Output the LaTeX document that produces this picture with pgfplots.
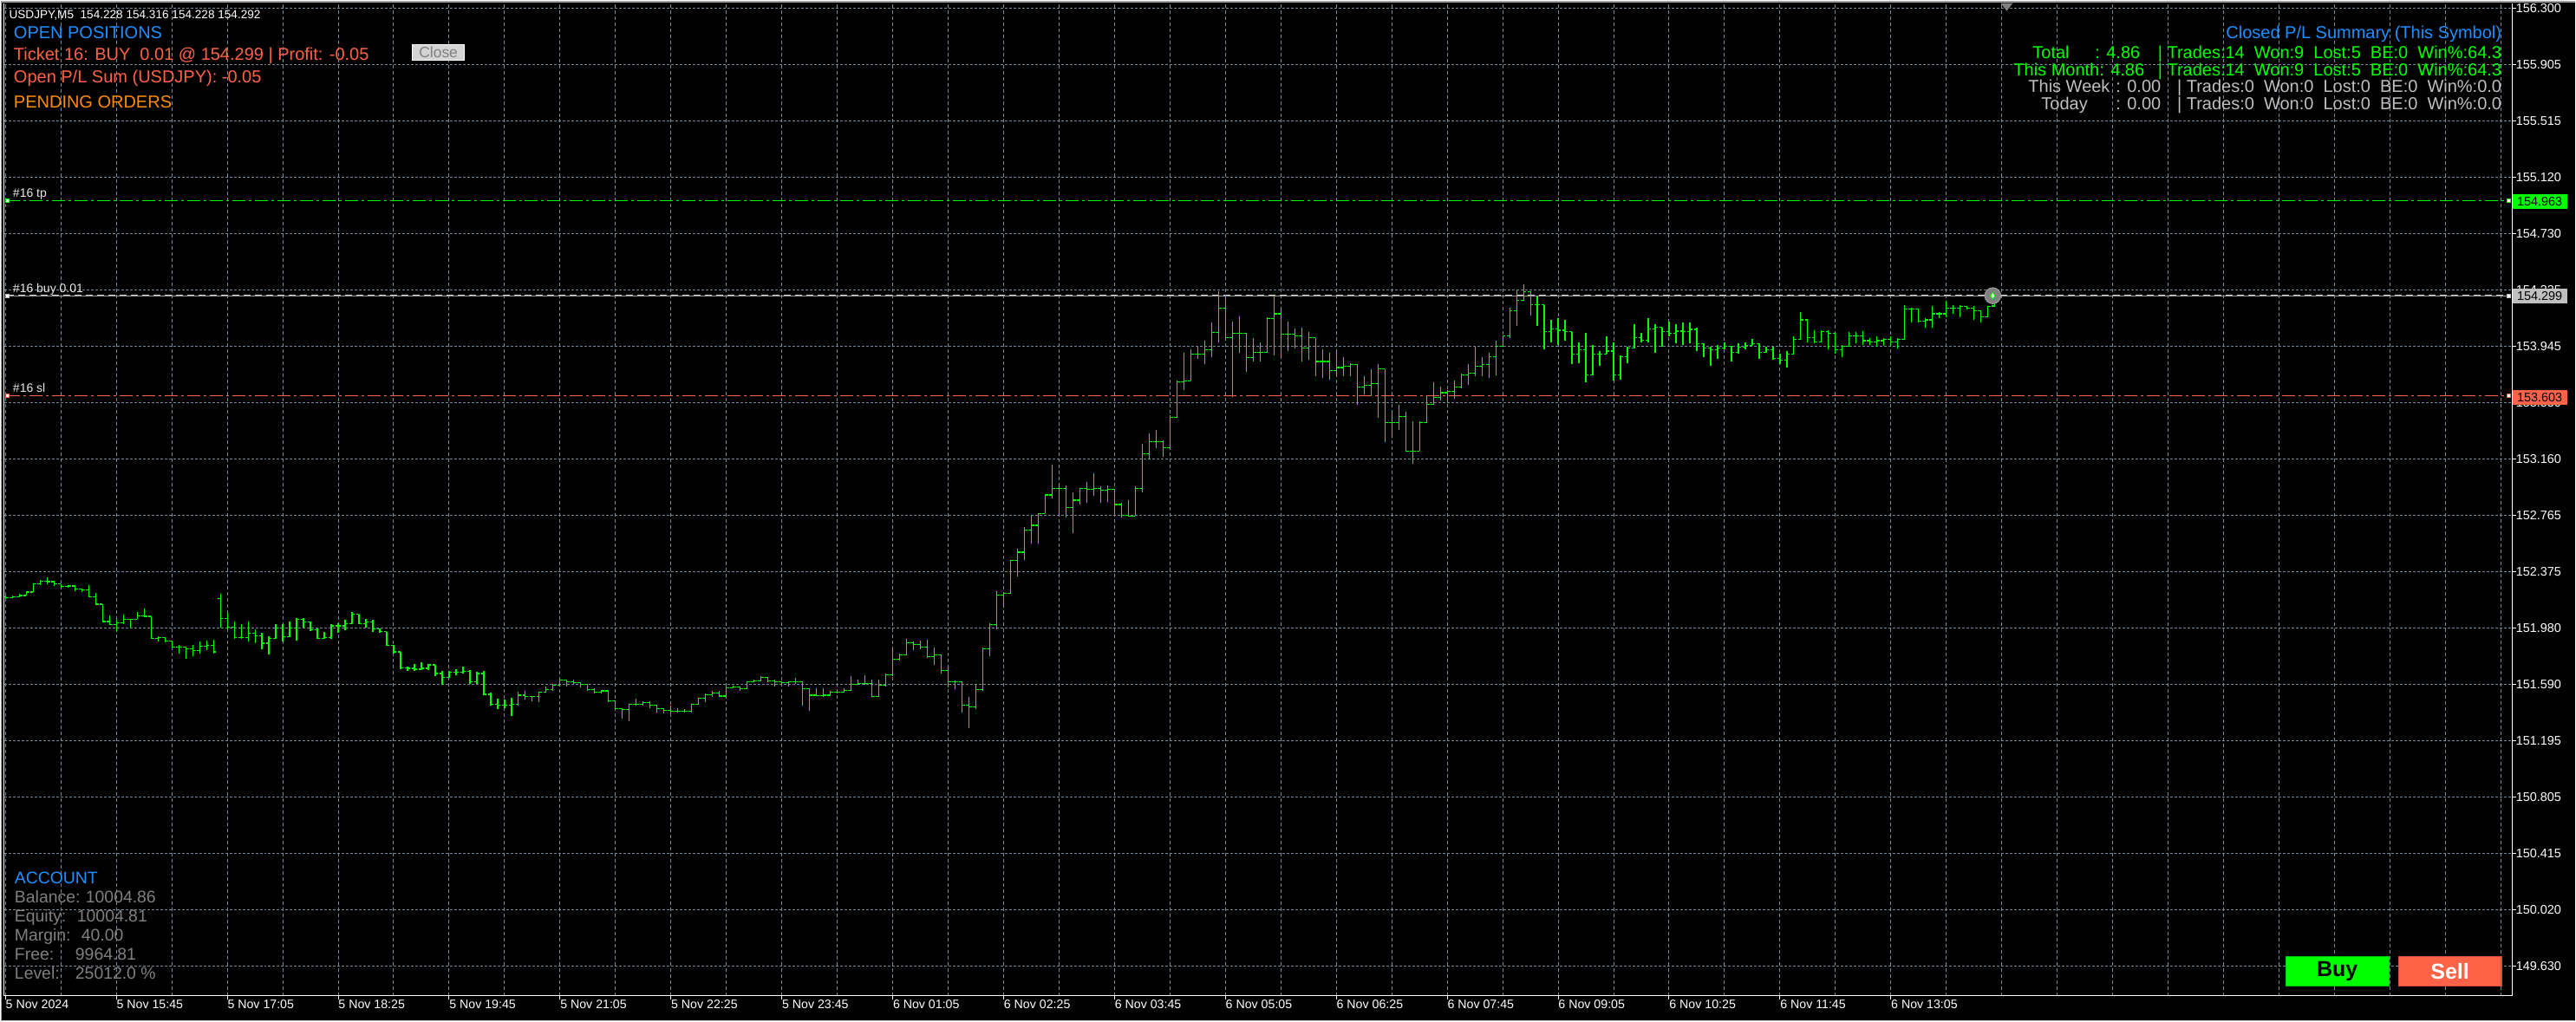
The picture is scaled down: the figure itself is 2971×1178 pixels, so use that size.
\documentclass[border=0pt]{standalone}
\usepackage{fontspec}
\setmainfont{Liberation Sans}
\usepackage{pgfplots}
\usepackage{pgfplotstable}
\pgfplotsset{compat=1.18}
\definecolor{mtgreen}{RGB}{0,255,0}
\definecolor{mtgrid}{RGB}{119,136,153}
\definecolor{dodger}{RGB}{30,144,255}
\definecolor{tomato}{RGB}{255,99,71}
\definecolor{dorange}{RGB}{255,140,0}
\definecolor{silverc}{RGB}{192,192,192}
\definecolor{dimg}{RGB}{128,128,128}

\pgfplotstableread{
x O H L C
0 152.200 152.210 152.184 152.194
1 152.194 152.210 152.190 152.200
2 152.200 152.220 152.196 152.210
3 152.210 152.240 152.220 152.234
4 152.234 152.297 152.234 152.293
5 152.293 152.321 152.281 152.311
6 152.311 152.335 152.287 152.307
7 152.307 152.311 152.275 152.291
8 152.291 152.291 152.267 152.275
9 152.275 152.285 152.265 152.277
10 152.277 152.280 152.240 152.255
11 152.255 152.261 152.236 152.247
12 152.247 152.281 152.196 152.200
13 152.200 152.230 152.146 152.150
14 152.150 152.150 152.025 152.029
15 152.029 152.074 152.005 152.009
16 152.009 152.039 151.959 152.019
17 152.019 152.078 152.013 152.045
18 152.045 152.049 151.985 152.045
19 152.045 152.096 152.045 152.069
20 152.069 152.120 152.059 152.065
21 152.065 152.065 151.909 151.913
22 151.913 151.929 151.888 151.919
23 151.919 151.923 151.884 151.892
24 151.892 151.892 151.848 151.852
25 151.852 151.868 151.808 151.852
26 151.852 151.852 151.772 151.838
27 151.838 151.868 151.788 151.828
28 151.828 151.892 151.804 151.858
29 151.858 151.899 151.832 151.864
30 151.864 151.903 151.808 151.818
31 152.190 152.220 151.989 152.049
32 152.049 152.090 151.973 151.989
33 151.989 152.029 151.909 151.919
34 151.919 152.009 151.909 151.919
35 151.919 152.029 151.888 151.949
36 151.949 151.973 151.878 151.929
37 151.929 151.953 151.838 151.878
38 151.878 151.929 151.798 151.909
39 151.909 152.013 151.909 151.985
40 151.985 152.009 151.888 151.925
41 151.925 152.029 151.919 151.985
42 151.985 152.053 151.899 152.045
43 152.045 152.053 151.989 152.025
44 152.025 152.029 151.965 151.973
45 151.973 151.979 151.909 151.913
46 151.913 151.959 151.909 151.919
47 151.919 152.009 151.909 151.999
48 151.999 152.019 151.949 151.999
49 151.999 152.039 151.969 152.013
50 152.013 152.096 152.009 152.080
51 152.080 152.080 152.009 152.013
52 152.013 152.049 151.989 152.025
53 152.025 152.039 151.959 151.979
54 151.979 151.979 151.949 151.959
55 151.959 151.959 151.858 151.864
56 151.864 151.868 151.808 151.818
57 151.818 151.818 151.697 151.707
58 151.707 151.717 151.687 151.703
59 151.703 151.731 151.687 151.697
60 151.697 151.748 151.691 151.703
61 151.703 151.731 151.691 151.727
62 151.727 151.727 151.647 151.667
63 151.667 151.687 151.591 151.637
64 151.637 151.683 151.637 151.677
65 151.677 151.697 151.657 151.677
66 151.677 151.717 151.667 151.683
67 151.683 151.691 151.597 151.607
68 151.607 151.677 151.597 151.667
69 151.667 151.687 151.516 151.522
70 151.522 151.536 151.446 151.452
71 151.452 151.490 151.416 151.446
72 151.446 151.486 151.426 151.446
73 151.446 151.496 151.369 151.452
74 151.452 151.542 151.446 151.516
75 151.516 151.546 151.486 151.506
76 151.506 151.510 151.476 151.506
77 151.506 151.540 151.466 151.536
78 151.536 151.577 151.536 151.556
79 151.556 151.597 151.546 151.583
80 151.583 151.631 151.577 151.623
81 151.623 151.627 151.577 151.611
82 151.611 151.627 151.597 151.603
83 151.603 151.607 151.567 151.591
84 151.591 151.591 151.546 151.556
85 151.556 151.562 151.526 151.536
86 151.536 151.550 151.526 151.546
87 151.546 151.546 151.470 151.476
88 151.476 151.476 151.416 151.420
89 151.420 151.426 151.355 151.416
90 151.416 151.456 151.335 151.452
91 151.452 151.492 151.442 151.452
92 151.452 151.476 151.442 151.466
93 151.466 151.476 151.426 151.446
94 151.446 151.446 151.395 151.420
95 151.420 151.426 151.389 151.412
96 151.412 151.446 151.391 151.405
97 151.405 151.426 151.395 151.405
98 151.405 151.416 151.395 151.405
99 151.405 151.456 151.395 151.452
100 151.452 151.500 151.452 151.496
101 151.496 151.526 151.466 151.520
102 151.520 151.546 151.506 151.530
103 151.530 151.546 151.506 151.510
104 151.510 151.583 151.496 151.567
105 151.567 151.583 151.562 151.571
106 151.571 151.577 151.546 151.562
107 151.562 151.613 151.562 151.607
108 151.607 151.627 151.607 151.617
109 151.617 151.647 151.617 151.637
110 151.637 151.637 151.607 151.617
111 151.617 151.623 151.577 151.607
112 151.607 151.607 151.587 151.603
113 151.603 151.613 151.577 151.607
114 151.607 151.637 151.597 151.607
115 151.607 151.607 151.446 151.562
116 151.562 151.562 151.405 151.516
117 151.516 151.562 151.510 151.512
118 151.512 151.562 151.506 151.516
119 151.516 151.546 151.516 151.536
120 151.536 151.552 151.526 151.536
121 151.536 151.562 151.536 151.550
122 151.550 151.647 151.546 151.591
123 151.591 151.627 151.587 151.597
124 151.597 151.657 151.587 151.597
125 151.597 151.627 151.502 151.506
126 151.506 151.627 151.502 151.587
127 151.587 151.667 151.577 151.657
128 151.657 151.838 151.647 151.768
129 151.768 151.808 151.758 151.798
130 151.798 151.909 151.798 151.882
131 151.882 151.888 151.828 151.868
132 151.868 151.899 151.838 151.852
133 151.852 151.903 151.778 151.784
134 151.784 151.848 151.727 151.798
135 151.798 151.798 151.667 151.687
136 151.687 151.707 151.567 151.607
137 151.607 151.617 151.556 151.607
138 151.607 151.607 151.395 151.446
139 151.446 151.506 151.285 151.436
140 151.436 151.587 151.416 151.556
141 151.556 151.848 151.546 151.838
142 151.838 152.019 151.788 152.009
143 152.009 152.242 151.972 152.211
144 152.211 152.232 152.128 152.226
145 152.226 152.460 152.221 152.454
146 152.454 152.537 152.346 152.512
147 152.512 152.689 152.460 152.668
148 152.668 152.772 152.574 152.699
149 152.699 152.782 152.574 152.782
150 152.782 152.917 152.782 152.911
151 152.911 153.125 152.886 152.958
152 152.958 152.990 152.761 152.958
153 152.958 152.979 152.751 152.824
154 152.824 152.927 152.647 152.875
155 152.875 152.958 152.844 152.958
156 152.958 153.000 152.855 152.948
157 152.948 153.062 152.907 152.958
158 152.958 152.969 152.855 152.944
159 152.944 152.979 152.865 152.948
160 152.948 152.948 152.782 152.844
161 152.844 152.855 152.751 152.767
162 152.767 152.875 152.761 152.765
163 152.765 152.969 152.765 152.958
164 152.958 153.270 152.927 153.197
165 153.197 153.342 153.166 153.280
166 153.280 153.363 153.239 153.284
167 153.284 153.291 153.176 153.239
168 153.239 153.467 153.228 153.453
169 153.453 153.706 153.446 153.700
170 153.700 153.903 153.644 153.706
171 153.706 153.924 153.706 153.893
172 153.893 153.945 153.862 153.893
173 153.893 153.986 153.820 153.924
174 153.924 154.111 153.872 154.044
175 154.044 154.329 153.976 154.214
176 154.214 154.308 153.986 154.007
177 154.007 154.121 153.592 154.038
178 154.038 154.156 153.903 154.038
179 154.038 154.038 153.768 153.866
180 153.866 154.007 153.841 153.903
181 153.903 153.976 153.841 153.903
182 153.903 154.152 153.903 154.142
183 154.142 154.297 153.882 154.173
184 154.173 154.214 153.882 154.032
185 154.032 154.121 153.913 154.032
186 154.032 154.069 153.934 154.017
187 154.017 154.079 153.841 153.934
188 153.934 154.048 153.851 154.007
189 154.007 154.007 153.737 153.841
190 153.841 153.924 153.727 153.841
191 153.841 153.903 153.716 153.778
192 153.778 153.924 153.737 153.799
193 153.799 153.872 153.737 153.810
194 153.810 153.830 153.737 153.820
195 153.820 153.820 153.540 153.664
196 153.664 153.737 153.612 153.675
197 153.675 153.789 153.602 153.685
198 153.685 153.820 153.446 153.789
199 153.789 153.789 153.280 153.415
200 153.415 153.498 153.311 153.415
201 153.415 153.540 153.363 153.457
202 153.457 153.488 153.218 153.218
203 153.218 153.426 153.131 153.218
204 153.218 153.426 153.218 153.415
205 153.415 153.602 153.415 153.540
206 153.540 153.695 153.540 153.592
207 153.592 153.664 153.571 153.623
208 153.623 153.644 153.550 153.633
209 153.633 153.706 153.581 153.664
210 153.664 153.758 153.654 153.747
211 153.747 153.820 153.675 153.758
212 153.758 153.945 153.737 153.810
213 153.810 153.872 153.737 153.820
214 153.820 153.903 153.727 153.872
215 153.872 153.986 153.747 153.949
216 153.949 154.017 153.945 154.017
217 154.017 154.214 154.007 154.194
218 154.194 154.339 154.090 154.266
219 154.266 154.380 154.266 154.329
220 154.329 154.329 154.162 154.235
221 154.235 154.297 154.090 154.235
222 154.235 154.235 153.924 154.048
223 154.048 154.131 153.976 154.069
224 154.069 154.142 153.955 154.059
225 154.059 154.131 153.986 154.048
226 154.048 154.048 153.820 153.893
227 153.893 153.976 153.830 153.924
228 153.924 154.038 153.695 153.747
229 153.747 153.955 153.747 153.893
230 153.893 153.913 153.810 153.893
231 153.893 154.017 153.893 153.913
232 153.913 153.976 153.706 153.747
233 153.747 153.882 153.716 153.872
234 153.872 153.945 153.830 153.934
235 153.934 154.100 153.934 154.007
236 154.007 154.038 153.976 153.990
237 153.990 154.142 153.976 154.069
238 154.069 154.100 153.903 154.079
239 154.079 154.079 153.945 154.048
240 154.048 154.121 154.017 154.038
241 154.038 154.100 153.965 154.052
242 154.052 154.111 153.955 154.048
243 154.048 154.111 153.965 154.065
244 154.065 154.079 153.913 153.965
245 153.965 153.965 153.872 153.934
246 153.934 153.945 153.810 153.924
247 153.924 153.955 153.862 153.934
248 153.934 153.976 153.924 153.949
249 153.949 153.949 153.841 153.903
250 153.903 153.965 153.893 153.940
251 153.940 153.976 153.924 153.955
252 153.955 153.996 153.955 153.965
253 153.965 153.965 153.862 153.903
254 153.903 153.945 153.903 153.924
255 153.924 153.945 153.851 153.862
256 153.862 153.893 153.820 153.851
257 153.851 153.913 153.799 153.893
258 153.893 154.017 153.893 153.996
259 153.996 154.183 153.996 154.131
260 154.131 154.131 153.976 154.007
261 154.007 154.059 153.965 153.976
262 153.976 154.059 153.976 154.048
263 154.048 154.059 153.924 154.038
264 154.038 154.038 153.893 153.924
265 153.924 153.955 153.872 153.945
266 153.945 154.048 153.945 154.017
267 154.017 154.048 153.965 154.017
268 154.017 154.052 153.955 153.986
269 153.986 154.007 153.955 153.976
270 153.976 154.017 153.945 153.986
271 153.986 154.007 153.949 153.996
272 153.996 154.017 153.955 153.976
273 153.976 154.007 153.934 153.996
274 153.996 154.235 153.996 154.204
275 154.204 154.214 154.111 154.204
276 154.204 154.204 154.111 154.121
277 154.121 154.142 154.079 154.131
278 154.131 154.225 154.079 154.173
279 154.173 154.183 154.142 154.173
280 154.173 154.266 154.152 154.214
281 154.214 154.235 154.173 154.214
282 154.214 154.235 154.152 154.225
283 154.225 154.225 154.204 154.214
284 154.214 154.225 154.131 154.194
285 154.194 154.194 154.111 154.152
286 154.152 154.225 154.152 154.225
287 154.228 154.316 154.228 154.292
}\bars

\begin{document}
\begin{tikzpicture}
\begin{scope}[x=0.5pt,y=0.5pt]
\useasboundingbox (0,0) rectangle (2971,1178);
\fill[black] (0,0) rectangle (2971,1178);
\end{scope}
\begin{axis}[
  at={(1.85pt,14.5pt)}, anchor=south west,
  scale only axis, width=1447.2pt, height=573pt,
  xmin=-0.2, xmax=361.6, ymin=149.4206, ymax=156.338,
  axis line style={draw=none},
  tick style={white, line width=0.5pt},
  tick align=outside, major tick length=2.2pt, minor tick length=0pt,
  xtick pos=lower, ytick pos=upper, xticklabel pos=lower, yticklabel pos=upper,
  xtick={0,16,...,272},
  xticklabels={5 Nov 2024, 5 Nov 15:45, 5 Nov 17:05, 5 Nov 18:25, 5 Nov 19:45, 5 Nov 21:05, 5 Nov 22:25, 5 Nov 23:45, 6 Nov 01:05, 6 Nov 02:25, 6 Nov 03:45, 6 Nov 05:05, 6 Nov 06:25, 6 Nov 07:45, 6 Nov 09:05, 6 Nov 10:25, 6 Nov 11:45, 6 Nov 13:05},
  minor xtick={0,8,...,360},
  ytick={149.630,150.0224,150.4147,150.8071,151.1994,151.5918,151.9841,152.3765,152.7688,153.1612,153.5535,153.9459,154.3382,154.7306,155.1229,155.5153,155.9076,156.300},
  yticklabels={149.630,150.020,150.415,150.805,151.195,151.590,151.980,152.375,152.765,153.160,153.550,153.945,154.335,154.730,155.120,155.515,155.905,156.300},
  xmajorgrids=false, xminorgrids=true, ymajorgrids=true,
  minor grid style={mtgrid, line width=0.5pt, dash pattern=on 2pt off 1.5pt},
  major grid style={mtgrid, line width=0.5pt, dash pattern=on 1.5pt off 1pt},
  xticklabel style={font=\fontsize{7.1}{8}\selectfont, text=white, anchor=north west, inner sep=0pt},
  yticklabel style={font=\fontsize{7.2}{8}\selectfont, text=white, anchor=west, inner sep=0pt},
]
% order levels
\addplot[mtgreen, line width=0.5pt, dash pattern=on 7.5pt off 2pt on 1.5pt off 2pt] coordinates {(0.2,154.963) (361.2,154.963)};
\addplot[color={rgb,255:red,150;green,150;blue,150}, line width=0.5pt] coordinates {(0.2,154.299) (361.2,154.299)};
\addplot[color={rgb,255:red,215;green,215;blue,215}, line width=0.5pt, dash pattern=on 4pt off 2.5pt] coordinates {(0.2,154.305) (361.2,154.305)};
\addplot[tomato, line width=0.5pt, dash pattern=on 7.5pt off 2pt on 1.5pt off 2pt] coordinates {(0.2,153.603) (361.2,153.603)};
% OHLC bars
\addplot[mtgreen, line width=0.6pt, quiver={u=0, v={max(\thisrow{H},\thisrow{O},\thisrow{C})-min(\thisrow{L},\thisrow{O},\thisrow{C})}}] table[x=x, y expr={min(\thisrow{L},\thisrow{O},\thisrow{C})}] {\bars};
\addplot[mtgreen, line width=0.6pt, quiver={u=-0.42, v=0}] table[x=x, y=O] {\bars};
\addplot[mtgreen, line width=0.6pt, quiver={u=0.42, v=0}] table[x=x, y=C] {\bars};
% level end markers
\addplot[only marks, mark=square*, mark size=1pt, mark options={fill=white, draw=mtgreen, line width=0.3pt}] coordinates {(0.3,154.963) (361.1,154.963)};
\addplot[only marks, mark=square*, mark size=1pt, mark options={fill=white, draw=silverc, line width=0.3pt}] coordinates {(0.3,154.299) (361.1,154.299)};
\addplot[only marks, mark=square*, mark size=1pt, mark options={fill=white, draw=tomato, line width=0.3pt}] coordinates {(0.3,153.603) (361.1,153.603)};
% position marker at last bar
\addplot[only marks, mark=*, mark size=4.6pt, mark options={fill=dimg, draw={rgb,255:red,160;green,160;blue,160}, line width=0.5pt}] coordinates {(286.7,154.299)};
\addplot[only marks, mark=diamond*, mark size=1.8pt, mark options={fill=white, draw=mtgreen, line width=0.4pt}] coordinates {(286.7,154.299)};
\end{axis}
\begin{scope}[x=0.5pt,y=0.5pt, every node/.style={inner sep=0pt, outer sep=0pt}]
% frame lines
\draw[white, line width=0.5pt] (3.7,29) -- (2898,29) -- (2898,1175);
\draw[white, line width=0.5pt] (3.7,29) -- (3.7,1175);
\draw[color={rgb,255:red,160;green,160;blue,160}, line width=1pt] (0,1177) -- (2971,1177);
\draw[color={rgb,255:red,200;green,200;blue,200}, line width=0.6pt] (0,0.5) -- (2971,0.5);
\draw[color={rgb,255:red,160;green,160;blue,160}, line width=0.6pt] (0.8,0) -- (0.8,1178);
% shift triangle
\fill[dimg] (2308,1175) -- (2322,1175) -- (2315,1166) -- cycle;
% price labels at right
\fill[mtgreen] (2899,937) rectangle (2962,954);
\node[anchor=base west, font=\fontsize{7.2}{8}\selectfont, text=black] at (2904,940.5) {154.963};
\fill[silverc] (2899,828) rectangle (2962,845);
\node[anchor=base west, font=\fontsize{7.2}{8}\selectfont, text=black] at (2904,831.5) {154.299};
\fill[tomato] (2899,711) rectangle (2962,728);
\node[anchor=base west, font=\fontsize{7.2}{8}\selectfont, text=black] at (2904,714.5) {153.603};
% level names
\node[anchor=base west, font=\fontsize{7}{8}\selectfont, text={rgb,255:red,235;green,235;blue,235}] at (14,951.3) {\#16 tp};
\node[anchor=base west, font=\fontsize{7}{8}\selectfont, text={rgb,255:red,235;green,235;blue,235}] at (14,841.3) {\#16 buy 0.01};
\node[anchor=base west, font=\fontsize{7}{8}\selectfont, text={rgb,255:red,235;green,235;blue,235}] at (14,725.7) {\#16 sl};
% top-left panel
\node[anchor=base west, font=\fontsize{6.8}{8}\selectfont, text=white] at (9.6,1157.1) {USDJPY,M5~~154.228 154.316 154.228 154.292};
\node[anchor=base west, font=\fontsize{10}{12}\selectfont, text=dodger] at (15,1134.1) {OPEN POSITIONS};
\node[anchor=base west, font=\fontsize{10}{12}\selectfont, text=tomato] at (15,1109.1) {Ticket 16: BUY~~0.01 @ 154.299 | Profit: -0.05};
\node[anchor=base west, font=\fontsize{10}{12}\selectfont, text=tomato] at (15,1083.5) {Open P/L Sum (USDJPY): -0.05};
\node[anchor=base west, font=\fontsize{10}{12}\selectfont, text=dorange] at (15,1054.1) {PENDING ORDERS};
\filldraw[fill={rgb,255:red,212;green,212;blue,212}, draw=white, line width=0.6pt] (475,1109) rectangle (535,1127);
\node[font=\fontsize{8.7}{10}\selectfont, text=dimg] at (505,1118) {Close};
% top-right panel
\node[anchor=base east, font=\fontsize{10}{12}\selectfont, text=dodger] at (2886,1134.1) {Closed P/L Summary (This Symbol)};
\begin{scope}[every node/.append style={font=\fontsize{10}{12}\selectfont, text=mtgreen}]
\node[anchor=base west] at (2345,1111.5) {Total};
\node[anchor=base west] at (2417,1111.5) {: 4.86};
\node[anchor=base east] at (2886,1111.5) {| Trades:14~~Won:9~~Lost:5~~BE:0~~Win\%:64.3};
\node[anchor=base west] at (2323,1091.5) {This Month: 4.86};
\node[anchor=base east] at (2886,1091.5) {| Trades:14~~Won:9~~Lost:5~~BE:0~~Win\%:64.3};
\end{scope}
\begin{scope}[every node/.append style={font=\fontsize{10}{12}\selectfont, text=silverc}]
\node[anchor=base west] at (2340,1072.1) {This Week};
\node[anchor=base west] at (2441,1072.1) {: 0.00};
\node[anchor=base east] at (2886,1072.1) {| Trades:0~~Won:0~~Lost:0~~BE:0~~Win\%:0.0};
\node[anchor=base west] at (2355,1052.5) {Today};
\node[anchor=base west] at (2441,1052.5) {: 0.00};
\node[anchor=base east] at (2886,1052.5) {| Trades:0~~Won:0~~Lost:0~~BE:0~~Win\%:0.0};
\end{scope}
% account panel
\node[anchor=base west, font=\fontsize{9.7}{12}\selectfont, text=dodger] at (16,158.5) {ACCOUNT};
\begin{scope}[every node/.append style={font=\fontsize{9.7}{12}\selectfont, text=dimg, anchor=base west}]
\node at (16,136.2) {Balance:};
\node at (98,136.2) {10004.86};
\node at (16,114.5) {Equity:};
\node at (88,114.5) {10004.81};
\node at (16,92.2) {Margin:};
\node at (93,92.2) {40.00};
\node at (16,70.2) {Free:};
\node at (86,70.2) {9964.81};
\node at (16,47.9) {Level:};
\node at (86,47.9) {25012.0 \%};
\end{scope}
% buttons
\filldraw[fill=mtgreen, draw={rgb,255:red,0;green,200;blue,0}, line width=0.6pt] (2637,40) rectangle (2756,74);
\node[font=\bfseries\fontsize{12.5}{14}\selectfont, text=black] at (2696.5,57) {Buy};
\filldraw[fill=tomato, draw={rgb,255:red,220;green,80;blue,55}, line width=0.6pt] (2767,40) rectangle (2886,74);
\node[font=\bfseries\fontsize{12.5}{14}\selectfont, text=white] at (2826.5,57) {Sell};
\end{scope}
\end{tikzpicture}
\end{document}
